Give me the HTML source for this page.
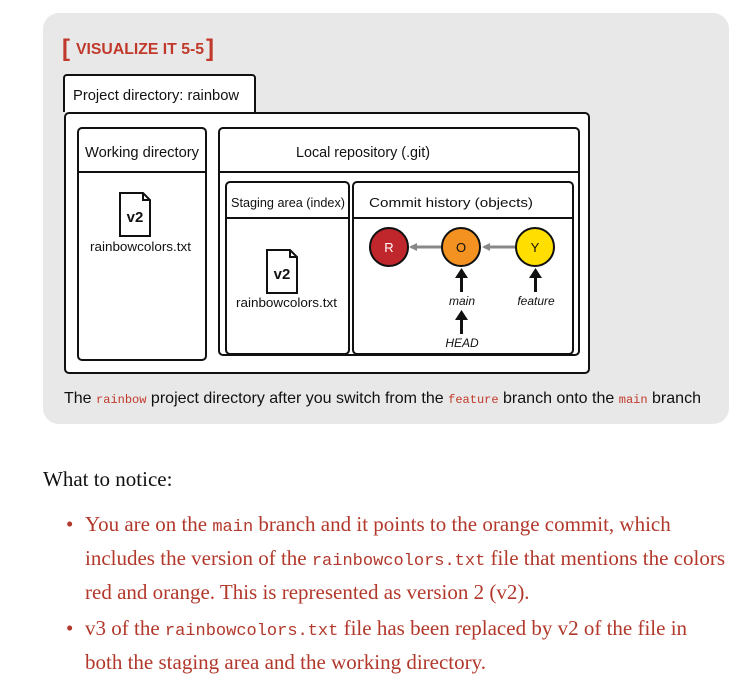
<!DOCTYPE html>
<html><head><meta charset="utf-8"><style>
body{margin:0;background:#fff;width:754px;height:679px;overflow:hidden;position:relative;font-family:"Liberation Sans",sans-serif}
.panel{position:absolute;left:43px;top:13px;width:686px;height:411px;background:#e8e8e8;border-radius:16px}
svg{position:absolute;left:0;top:0}
.wtn{position:absolute;left:43px;top:467px;font:21px "Liberation Serif",serif;color:#111}
ul{position:absolute;left:0;top:507px;margin:0;padding:0 0 0 85px;width:641px;list-style:none;font:21px/34px "Liberation Serif",serif;color:#b2382b}
li{position:relative;margin-bottom:2px}
li:before{content:"•";position:absolute;left:-19px;color:#b2382b}
code{font:17px "Liberation Mono",monospace;color:#b2382b}
</style></head><body>
<div class="panel"></div>
<svg width="754" height="679" font-family="Liberation Sans, sans-serif">
<defs><marker id="g" markerWidth="8" markerHeight="8" refX="6" refY="4" orient="auto" markerUnits="userSpaceOnUse"><path d="M0,0L8,4L0,8z" fill="#888"/></marker></defs>
<text x="62" y="56" font-size="24" fill="#c0392b" font-weight="bold">[</text>
<text x="76" y="54" font-size="16" fill="#c0392b" font-weight="bold" textLength="128" lengthAdjust="spacingAndGlyphs">VISUALIZE IT 5-5</text>
<text x="206" y="56" font-size="24" fill="#c0392b" font-weight="bold">]</text>
<g stroke="#111" stroke-width="2" fill="#fff">
<path d="M64,112V78a3,3 0 0 1 3,-3H252a3,3 0 0 1 3,3V112"/>
<rect x="65" y="113" width="524" height="260" rx="4"/>
<rect x="78" y="128" width="128" height="232" rx="4"/>
<line x1="78" y1="172" x2="206" y2="172"/>
<rect x="219" y="128" width="360" height="227" rx="4"/>
<line x1="219" y1="172" x2="579" y2="172"/>
<rect x="226" y="182" width="123" height="172" rx="4"/>
<line x1="226" y1="218" x2="349" y2="218"/>
<rect x="353" y="182" width="220" height="172" rx="4"/>
<line x1="353" y1="218" x2="573" y2="218"/>
<path d="M120,193H143L150,200V236H120z"/><path d="M143,193V200H150" fill="none"/>
<path d="M267,250H290L297,257V293H267z"/><path d="M290,250V257H297" fill="none"/>
</g>
<g font-size="15" fill="#111">
<text x="73" y="100" textLength="166" lengthAdjust="spacingAndGlyphs">Project directory: rainbow</text>
<text x="85" y="157" textLength="114" lengthAdjust="spacingAndGlyphs">Working directory</text>
<text x="296" y="157" textLength="134" lengthAdjust="spacingAndGlyphs">Local repository (.git)</text>
<text x="231" y="207" font-size="13" textLength="114" lengthAdjust="spacingAndGlyphs">Staging area (index)</text>
<text x="369" y="207" font-size="13" textLength="164" lengthAdjust="spacingAndGlyphs">Commit history (objects)</text>
<text x="135" y="222" font-size="15" font-weight="bold" text-anchor="middle">v2</text>
<text x="282" y="279" font-size="15" font-weight="bold" text-anchor="middle">v2</text>
<text x="90" y="251" font-size="13" textLength="101" lengthAdjust="spacingAndGlyphs">rainbowcolors.txt</text>
<text x="236" y="307" font-size="13" textLength="101" lengthAdjust="spacingAndGlyphs">rainbowcolors.txt</text>
</g>
<g stroke="#888" stroke-width="3">
<line x1="441" y1="247" x2="411" y2="247" marker-end="url(#g)"/>
<line x1="515" y1="247" x2="484" y2="247" marker-end="url(#g)"/>
</g>
<g stroke="#111" stroke-width="2">
<circle cx="389" cy="247" r="19" fill="#c0272d"/>
<circle cx="461" cy="247" r="19" fill="#f39220"/>
<circle cx="535" cy="247" r="19" fill="#ffde00"/>
</g>
<g font-size="13" text-anchor="middle">
<text x="389" y="252" fill="#fff">R</text><text x="461" y="252" fill="#111">O</text><text x="535" y="252" fill="#111">Y</text>
</g>
<g fill="#111">
<rect x="460" y="276" width="3" height="16"/><path d="M455,278L461.5,268L468,278z"/>
<rect x="534" y="276" width="3" height="16"/><path d="M529,278L535.5,268L542,278z"/>
<rect x="460" y="318" width="3" height="16"/><path d="M455,320L461.5,310L468,320z"/>
</g>
<g font-size="12" font-style="italic" fill="#111" text-anchor="middle">
<text x="462" y="305">main</text><text x="536" y="305">feature</text><text x="462" y="347">HEAD</text>
</g>
<text x="64" y="403" font-size="16" fill="#111" textLength="637" lengthAdjust="spacingAndGlyphs">The <tspan font-family="Liberation Mono" font-size="12" fill="#c0392b">rainbow</tspan> project directory after you switch from the <tspan font-family="Liberation Mono" font-size="12" fill="#c0392b">feature</tspan> branch onto the <tspan font-family="Liberation Mono" font-size="12" fill="#c0392b">main</tspan> branch</text>
</svg>
<div class="wtn">What to notice:</div>
<ul>
<li>You are on the <code>main</code> branch and it points to the orange commit, which includes the version of the <code>rainbowcolors.txt</code> file that mentions the colors red and orange. This is represented as version 2 (v2).</li>
<li>v3 of the <code>rainbowcolors.txt</code> file has been replaced by v2 of the file in both the staging area and the working directory.</li>
</ul>
</body></html>
